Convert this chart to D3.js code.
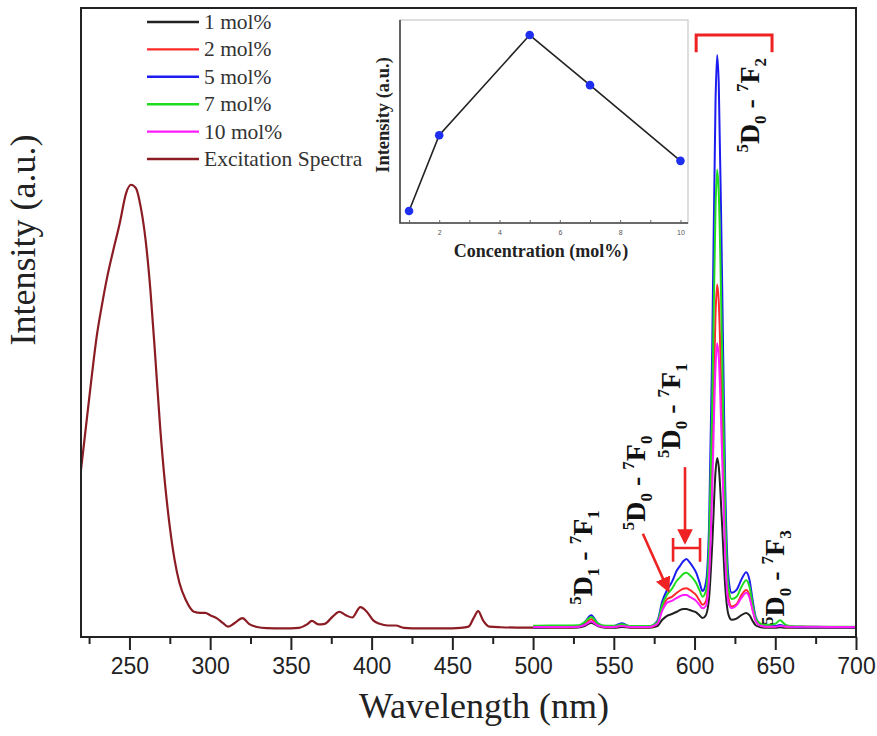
<!DOCTYPE html>
<html>
<head>
<meta charset="utf-8">
<script src="https://cdn.jsdelivr.net/npm/d3@7"></script>
<style>
  body { margin: 0; background: #fff; }
  svg { display: block; }
</style>
</head>
<body>
<svg id="chart" width="877" height="736"></svg>
<script>
// ---- Excitation spectrum (monitored at 614 nm) ----
const excitationWavelengths = [220, 225, 230, 233, 236, 240, 244, 248, 251, 254, 257, 260, 263, 266, 269,
  272, 275, 278, 281, 285, 290, 294, 297, 300, 304, 308, 311, 315, 320, 324, 329, 335, 345, 355, 360,
  363, 367, 371, 376, 380, 384, 388, 393, 397, 401, 405, 410, 415, 420, 430, 445, 455, 460, 463, 466,
  469, 473, 480, 490, 500];
const excitationIntensity = [27.7, 40, 51.5, 56.5, 61, 66, 70.7, 76, 77.4, 76.8, 73.5, 67.8, 59, 47.4, 35.2,
  25.4, 17.8, 12, 8, 5, 3, 2.8, 2.8, 2.4, 1.9, 1.0, 0.4, 1.0, 1.9, 0.9, 0.35, 0.15, 0.1, 0.2, 0.8,
  1.4, 0.8, 0.9, 2.2, 3.0, 2.4, 2.0, 3.8, 3.0, 1.5, 0.9, 0.6, 0.6, 0.2, 0.1, 0.1, 0.2, 0.4, 1.8, 3.1,
  1.5, 0.4, 0.3, 0.25, 0.25];

// ---- Emission spectra for each Eu concentration ----
const emissionWavelengths = [500, 510, 520, 528, 532, 536, 540, 545, 550, 555, 560, 566, 572, 577, 580,
  583, 586, 589, 591, 593, 595, 597, 599, 601, 603, 605, 607, 609, 611, 613, 614, 615, 617, 619, 621,
  623, 626, 629, 632, 634, 636, 638, 641, 645, 650, 653, 656, 660, 670, 685, 700];
const emission1 = [0.2, 0.2, 0.2, 0.25, 0.5, 1.1, 0.5, 0.2, 0.2, 0.35, 0.2, 0.2, 0.2, 0.5, 1.6,
  2.3, 2.6, 3.0, 3.3, 3.5, 3.5, 3.3, 3.1, 2.9, 2.4, 1.9, 2.4, 5.4, 15, 27.4, 29.8, 28.3, 18.5, 7.4, 2.5,
  1.6, 1.8, 2.4, 2.8, 2.4, 1.4, 0.6, 0.3, 0.2, 0.2, 0.3, 0.2, 0.2, 0.2, 0.2, 0.2];
const emission2 = [0.3, 0.3, 0.3, 0.35, 0.9, 1.7, 0.7, 0.3, 0.35, 0.6, 0.3, 0.3, 0.3, 1.0, 3.6,
  5.2, 5.6, 6.3, 6.7, 7.0, 7.1, 6.8, 6.4, 5.9, 5.0, 4.2, 4.8, 10.8, 30, 55, 60, 57, 37, 15, 5.5,
  3.9, 4.3, 5.9, 6.8, 5.9, 3.4, 1.4, 0.6, 0.4, 0.45, 0.6, 0.4, 0.3, 0.3, 0.3, 0.3];
const emission5 = [0.3, 0.35, 0.35, 0.45, 1.2, 2.4, 1.0, 0.4, 0.5, 1.0, 0.4, 0.35, 0.4, 1.4, 4.8,
  6.8, 8.2, 10.2, 11.0, 11.8, 12.2, 11.6, 10.8, 9.8, 8.2, 6.6, 8, 18, 50, 92, 100, 95, 62, 25, 9,
  6.3, 6.8, 8.6, 9.9, 8.6, 5.0, 2.0, 0.8, 0.5, 0.5, 0.7, 0.5, 0.35, 0.3, 0.3, 0.3];
const emission7 = [0.55, 0.6, 0.6, 0.65, 1.2, 2.1, 1.0, 0.55, 0.55, 0.8, 0.5, 0.5, 0.5, 1.2, 4.2,
  6.0, 7.0, 8.4, 9.0, 9.6, 9.8, 9.4, 8.8, 8.0, 6.8, 5.6, 6.6, 14.5, 40, 73.5, 80, 76, 49.5, 20, 7.2,
  5.2, 5.6, 7.3, 8.5, 7.4, 4.3, 1.8, 0.9, 0.7, 0.9, 1.5, 0.8, 0.5, 0.45, 0.4, 0.4];
const emission10 = [0.35, 0.35, 0.35, 0.4, 0.7, 1.3, 0.6, 0.35, 0.35, 0.5, 0.35, 0.35, 0.35, 0.9, 3.2,
  4.6, 4.9, 5.4, 5.7, 5.9, 5.9, 5.6, 5.3, 4.9, 4.2, 3.6, 4.0, 9, 25, 45.8, 49.8, 47.3, 31, 12.5, 4.6,
  3.6, 4.1, 5.4, 6.3, 5.5, 3.2, 1.3, 0.55, 0.4, 0.4, 0.5, 0.45, 0.4, 0.4, 0.35, 0.35];

const seriesNames = ["1 mol%", "2 mol%", "5 mol%", "7 mol%", "10 mol%", "Excitation Spectra"];
const seriesColors = ["#222222", "#ff2b2b", "#1c1cf0", "#1fdc1f", "#ff1cff", "#8b1c24"];

// ---- Inset: 614 nm peak intensity vs concentration ----
const concentrations = [1, 2, 5, 7, 10];
const peakIntensity = [29.8, 60, 100, 80, 49.8];

const majorTicks = [250, 300, 350, 400, 450, 500, 550, 600, 650, 700];
const minorTicks = [225, 275, 325, 375, 425, 475, 525, 575, 625, 675];
const insetTicks = [1, 2, 3, 4, 5, 6, 7, 8, 9, 10];

const svg = d3.select("#chart");
const plot = { left: 81, right: 856, top: 8, bottom: 637 };

const x = d3.scaleLinear().domain([220, 700]).range([plot.left, plot.right]);
const y = d3.scaleLinear().domain([-1.4, 108.2]).range([plot.bottom, plot.top]);

svg.append("defs").append("clipPath").attr("id", "plotClip")
  .append("rect")
  .attr("x", plot.left).attr("y", plot.top)
  .attr("width", plot.right - plot.left).attr("height", plot.bottom - plot.top);

const serif = "'Liberation Serif', 'Times New Roman', serif";
const sans = "'Liberation Sans', Arial, sans-serif";

// ---- spectra ----
const line = d3.line().x(d => x(d[0])).y(d => y(d[1])).curve(d3.curveMonotoneX);
const curves = svg.append("g").attr("clip-path", "url(#plotClip)");

curves.append("path")
  .datum(excitationWavelengths.map((w, i) => [w, excitationIntensity[i]]))
  .attr("fill", "none").attr("stroke", seriesColors[5]).attr("stroke-width", 2.2)
  .attr("d", line);

[emission1, emission2, emission5, emission7, emission10].forEach((vals, k) => {
  curves.append("path")
    .datum(emissionWavelengths.map((w, i) => [w, vals[i]]))
    .attr("fill", "none").attr("stroke", seriesColors[k]).attr("stroke-width", 2)
    .attr("stroke-linejoin", "round")
    .attr("d", line);
});

// ---- frame & axes ----
svg.append("rect")
  .attr("x", plot.left).attr("y", plot.top)
  .attr("width", plot.right - plot.left).attr("height", plot.bottom - plot.top)
  .attr("fill", "none").attr("stroke", "#222").attr("stroke-width", 2);

const xAxis = svg.append("g").attr("transform", `translate(0,${plot.bottom})`)
  .call(d3.axisBottom(x).tickValues(majorTicks).tickSize(13).tickPadding(8).tickFormat(d3.format("d")));
xAxis.select(".domain").remove();
xAxis.selectAll(".tick line").attr("stroke", "#222").attr("stroke-width", 2);
xAxis.selectAll(".tick text").attr("font-family", sans).attr("font-size", 23).attr("fill", "#222");

const xMinor = svg.append("g").attr("transform", `translate(0,${plot.bottom})`)
  .call(d3.axisBottom(x).tickValues(minorTicks).tickSize(7).tickFormat(""));
xMinor.select(".domain").remove();
xMinor.selectAll(".tick line").attr("stroke", "#222").attr("stroke-width", 2);

svg.append("text")
  .attr("x", 484).attr("y", 718)
  .attr("text-anchor", "middle")
  .attr("font-family", serif).attr("font-size", 36).attr("fill", "#222")
  .text("Wavelength (nm)");

svg.append("text")
  .attr("transform", "translate(35,240) rotate(-90)")
  .attr("text-anchor", "middle")
  .attr("font-family", serif).attr("font-size", 36).attr("fill", "#222")
  .text("Intensity (a.u.)");

// ---- legend ----
const legend = svg.append("g");
seriesNames.forEach((name, i) => {
  const ry = 22 + i * 27.4;
  legend.append("line")
    .attr("x1", 147).attr("x2", 199).attr("y1", ry).attr("y2", ry)
    .attr("stroke", seriesColors[i]).attr("stroke-width", 2.4);
  legend.append("text")
    .attr("x", 204).attr("y", ry + 7)
    .attr("font-family", serif).attr("font-size", 21.5).attr("fill", "#333")
    .text(name);
});

// ---- transition labels (rotated, with super/subscripts) ----
function transition(nm, val, parts) {
  const t = svg.append("text")
    .attr("transform", `translate(${x(nm)},${y(val)}) rotate(-90)`)
    .attr("font-family", serif).attr("font-weight", "bold").attr("font-size", 28).attr("fill", "#111");
  let shift = 0;
  parts.forEach(([s, kind]) => {
    const target = kind === "sup" ? -11 : kind === "sub" ? 7 : 0;
    t.append("tspan")
      .attr("dy", target - shift)
      .attr("font-size", kind ? 17 : 28)
      .text(s);
    shift = target;
  });
}
transition(640, 83, [["5", "sup"], ["D", ""], ["0", "sub"], [" - ", ""], ["7", "sup"], ["F", ""], ["2", "sub"]]);
transition(591, 29.8, [["5", "sup"], ["D", ""], ["0", "sub"], [" - ", ""], ["7", "sup"], ["F", ""], ["1", "sub"]]);
transition(569.3, 17.2, [["5", "sup"], ["D", ""], ["0", "sub"], [" - ", ""], ["7", "sup"], ["F", ""], ["0", "sub"]]);
transition(536.5, 4.2, [["5", "sup"], ["D", ""], ["1", "sub"], [" - ", ""], ["7", "sup"], ["F", ""], ["1", "sub"]]);
transition(655.4, 0.7, [["5", "sup"], ["D", ""], ["0", "sub"], [" - ", ""], ["7", "sup"], ["F", ""], ["3", "sub"]]);

// ---- red markers: bracket over 7F2, arrows and band bracket ----
const red = "#ee2222";
svg.select("defs").append("marker")
  .attr("id", "arrowHead").attr("viewBox", "0 0 10 10")
  .attr("refX", 8).attr("refY", 5)
  .attr("markerWidth", 6).attr("markerHeight", 6)
  .attr("markerUnits", "strokeWidth")
  .attr("orient", "auto")
  .append("path").attr("d", "M0,0 L10,5 L0,10 Z").attr("fill", red);

svg.append("path")
  .attr("d", `M${x(601)},${y(100.5)} V${y(103.5)} H${x(648)} V${y(100.5)}`)
  .attr("fill", "none").attr("stroke", red).attr("stroke-width", 3);

svg.append("line")
  .attr("x1", x(568)).attr("y1", y(16.6)).attr("x2", x(583.6)).attr("y2", y(6.8))
  .attr("stroke", red).attr("stroke-width", 2.6).attr("marker-end", "url(#arrowHead)");
svg.append("line")
  .attr("x1", x(594.1)).attr("y1", y(28.2)).attr("x2", x(594.1)).attr("y2", y(15.2))
  .attr("stroke", red).attr("stroke-width", 2.6).attr("marker-end", "url(#arrowHead)");
svg.append("path")
  .attr("d", `M${x(586.7)},${y(15.85)} V${y(11.7)} M${x(586.7)},${y(14.1)} H${x(603.4)} M${x(603.4)},${y(15.85)} V${y(11.7)}`)
  .attr("fill", "none").attr("stroke", red).attr("stroke-width", 2.6);

// ---- inset ----
const inset = { left: 400, right: 688, top: 20, bottom: 223 };
const ix = d3.scaleLinear().domain([0.7, 10.25]).range([inset.left, inset.right]);
const iy = d3.scaleLinear().domain([25, 106]).range([inset.bottom, inset.top]);
const ig = svg.append("g");

ig.append("rect")
  .attr("x", inset.left).attr("y", inset.top)
  .attr("width", inset.right - inset.left).attr("height", inset.bottom - inset.top)
  .attr("fill", "#fff").attr("stroke", "#c8c8c8").attr("stroke-width", 1.2);
ig.append("path")
  .attr("d", `M${inset.left},${inset.top} V${inset.bottom} H${inset.right}`)
  .attr("fill", "none").attr("stroke", "#444").attr("stroke-width", 1.6);

const iAxis = ig.append("g").attr("transform", `translate(0,${inset.bottom})`)
  .call(d3.axisBottom(ix).tickValues(insetTicks).tickSizeInner(-3).tickSizeOuter(0).tickPadding(7)
    .tickFormat(d => d % 2 === 0 ? d : ""));
iAxis.select(".domain").remove();
iAxis.selectAll(".tick line").attr("stroke", "#666").attr("stroke-width", 1);
iAxis.selectAll(".tick text").attr("font-family", sans).attr("font-size", 7).attr("fill", "#555");

ig.append("path")
  .datum(concentrations.map((c, i) => [c, peakIntensity[i]]))
  .attr("fill", "none").attr("stroke", "#222").attr("stroke-width", 1.6)
  .attr("d", d3.line().x(d => ix(d[0])).y(d => iy(d[1])));
ig.selectAll("circle")
  .data(concentrations.map((c, i) => [c, peakIntensity[i]]))
  .join("circle")
  .attr("cx", d => ix(d[0])).attr("cy", d => iy(d[1])).attr("r", 4.3)
  .attr("fill", "#1f2ff0");

ig.append("text")
  .attr("x", 541).attr("y", 257)
  .attr("text-anchor", "middle")
  .attr("font-family", serif).attr("font-weight", "bold").attr("font-size", 18).attr("fill", "#222")
  .text("Concentration (mol%)");
ig.append("text")
  .attr("transform", "translate(389,115) rotate(-90)")
  .attr("text-anchor", "middle")
  .attr("font-family", serif).attr("font-weight", "bold").attr("font-size", 18.5).attr("fill", "#222")
  .text("Intensity (a.u.)");
</script>
</body>
</html>
